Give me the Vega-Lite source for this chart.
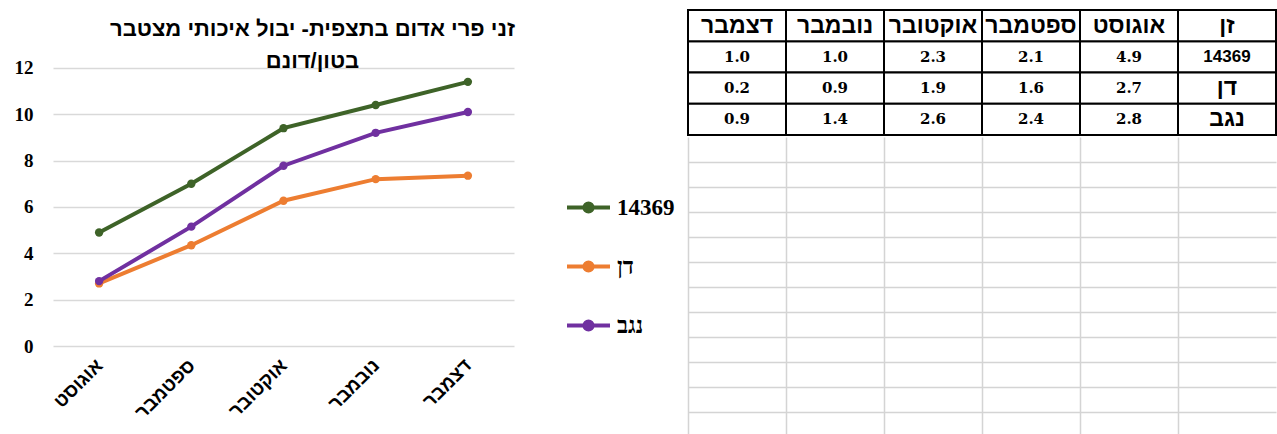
{
  "$schema": "https://vega.github.io/schema/vega-lite/v6.json",
  "background": "white",
  "padding": {"left": 14, "top": 8, "right": 0, "bottom": 0},
  "spacing": 174,
  "bounds": "flush",
  "datasets": {
    "cumulative": [
      {"variety": "14369", "month": "אוגוסט", "cum": 4.9},
      {"variety": "14369", "month": "ספטמבר", "cum": 7.0},
      {"variety": "14369", "month": "אוקטובר", "cum": 9.4},
      {"variety": "14369", "month": "נובמבר", "cum": 10.4},
      {"variety": "14369", "month": "דצמבר", "cum": 11.4},
      {"variety": "דן", "month": "אוגוסט", "cum": 2.7},
      {"variety": "דן", "month": "ספטמבר", "cum": 4.35},
      {"variety": "דן", "month": "אוקטובר", "cum": 6.27},
      {"variety": "דן", "month": "נובמבר", "cum": 7.2},
      {"variety": "דן", "month": "דצמבר", "cum": 7.35},
      {"variety": "נגב", "month": "אוגוסט", "cum": 2.8},
      {"variety": "נגב", "month": "ספטמבר", "cum": 5.15},
      {"variety": "נגב", "month": "אוקטובר", "cum": 7.78},
      {"variety": "נגב", "month": "נובמבר", "cum": 9.2},
      {"variety": "נגב", "month": "דצמבר", "cum": 10.1}
    ],
    "table": [
      {"variety": "14369", "month": "אוגוסט", "value": 4.9},
      {"variety": "14369", "month": "ספטמבר", "value": 2.1},
      {"variety": "14369", "month": "אוקטובר", "value": 2.3},
      {"variety": "14369", "month": "נובמבר", "value": 1.0},
      {"variety": "14369", "month": "דצמבר", "value": 1.0},
      {"variety": "דן", "month": "אוגוסט", "value": 2.7},
      {"variety": "דן", "month": "ספטמבר", "value": 1.6},
      {"variety": "דן", "month": "אוקטובר", "value": 1.9},
      {"variety": "דן", "month": "נובמבר", "value": 0.9},
      {"variety": "דן", "month": "דצמבר", "value": 0.2},
      {"variety": "נגב", "month": "אוגוסט", "value": 2.8},
      {"variety": "נגב", "month": "ספטמבר", "value": 2.4},
      {"variety": "נגב", "month": "אוקטובר", "value": 2.6},
      {"variety": "נגב", "month": "נובמבר", "value": 1.4},
      {"variety": "נגב", "month": "דצמבר", "value": 0.9}
    ],
    "corner": [{"label": "זן"}]
  },
  "hconcat": [
    {
      "width": 461,
      "height": 336,
      "view": {"stroke": null},
      "title": {
        "text": ["זני פרי אדום בתצפית- יבול איכותי מצטבר", "בטון/דונם"],
        "font": "Liberation Sans",
        "fontSize": 22,
        "fontWeight": "bold",
        "lineHeight": 32,
        "anchor": "middle",
        "dx": 29,
        "baseline": "alphabetic",
        "offset": -80,
        "color": "#000000"
      },
      "data": {"name": "cumulative"},
      "encoding": {
        "x": {
          "field": "month",
          "type": "ordinal",
          "sort": ["אוגוסט", "ספטמבר", "אוקטובר", "נובמבר", "דצמבר"],
          "scale": {"type": "point", "padding": 0.5},
          "axis": {
            "title": null,
            "domain": false,
            "ticks": false,
            "grid": false,
            "labelAngle": -45,
            "labelAlign": "right",
            "labelBaseline": "middle",
            "labelPadding": 16,
            "labelFont": "Liberation Sans",
            "labelFontSize": 19,
            "labelFontWeight": "bold",
            "labelColor": "#000000"
          }
        },
        "y": {
          "field": "cum",
          "type": "quantitative",
          "scale": {"domain": [0, 14.5], "nice": false},
          "axis": {
            "title": null,
            "values": [0, 2, 4, 6, 8, 10, 12],
            "domain": false,
            "ticks": false,
            "labelPadding": 20,
            "labelFont": "Liberation Serif",
            "labelFontSize": 19,
            "labelFontWeight": "bold",
            "labelColor": "#000000",
            "gridColor": "#D9D9D9",
            "gridWidth": 1.5
          }
        },
        "color": {
          "field": "variety",
          "type": "nominal",
          "scale": {"domain": ["14369", "דן", "נגב"], "range": ["#3E6328", "#ED7D31", "#7030A0"]},
          "legend": {
            "orient": "none",
            "legendX": 512,
            "legendY": 174,
            "title": null,
            "padding": 0,
            "symbolType": "M-1,0L1,0M-0.19,0A0.19,0.19,0,1,1,0.19,0A0.19,0.19,0,1,1,-0.19,0Z",
            "symbolSize": 1849,
            "symbolStrokeWidth": 4,
            "labelFont": "Liberation Serif, Liberation Sans",
            "labelFontSize": 23,
            "labelFontWeight": "bold",
            "labelColor": "#000000",
            "labelOffset": 5,
            "rowPadding": 23,
            "encode": {
              "symbols": {
                "update": {
                  "fill": {"scale": "color", "field": "value"},
                  "stroke": {"scale": "color", "field": "value"},
                  "opacity": {"value": 1}
                }
              }
            }
          }
        }
      },
      "layer": [
        {"mark": {"type": "line", "strokeWidth": 4}},
        {"mark": {"type": "point", "filled": true, "size": 70, "opacity": 1}}
      ]
    },
    {
      "spacing": 0,
      "vconcat": [
        {
          "width": 588,
          "height": 125,
          "view": {"stroke": "#000000", "strokeWidth": 2},
          "encoding": {
            "x": {
              "type": "nominal",
              "scale": {"domain": ["דצמבר", "נובמבר", "אוקטובר", "ספטמבר", "אוגוסט", "זן"], "paddingInner": 0, "paddingOuter": 0},
              "axis": null
            },
            "y": {
              "type": "nominal",
              "scale": {"domain": ["זן", "14369", "דן", "נגב"], "paddingInner": 0, "paddingOuter": 0},
              "axis": null
            }
          },
          "layer": [
            {
              "data": {"name": "table"},
              "encoding": {
                "x": {"field": "month"},
                "y": {"field": "variety"}
              },
              "layer": [
                {"mark": {"type": "rect", "fill": "#FFFFFF", "stroke": "#000000", "strokeWidth": 2}},
                {
                  "mark": {"type": "text", "font": "DejaVu Serif", "fontWeight": "bold", "fontSize": 15, "color": "#000000"},
                  "encoding": {"text": {"field": "value", "type": "quantitative", "format": ".1f"}}
                }
              ]
            },
            {
              "data": {"name": "table"},
              "transform": [{"aggregate": [{"op": "count", "as": "n"}], "groupby": ["month"]}],
              "encoding": {
                "x": {"field": "month"},
                "y": {"datum": "זן"}
              },
              "layer": [
                {"mark": {"type": "rect", "fill": "#FFFFFF", "stroke": "#000000", "strokeWidth": 2}},
                {
                  "mark": {"type": "text", "font": "Liberation Sans", "fontWeight": "bold", "fontSize": 23, "color": "#000000"},
                  "encoding": {"text": {"field": "month", "type": "nominal"}}
                }
              ]
            },
            {
              "data": {"name": "table"},
              "transform": [{"aggregate": [{"op": "count", "as": "n"}], "groupby": ["variety"]}],
              "encoding": {
                "x": {"datum": "זן"},
                "y": {"field": "variety"}
              },
              "layer": [
                {"mark": {"type": "rect", "fill": "#FFFFFF", "stroke": "#000000", "strokeWidth": 2}},
                {
                  "mark": {"type": "text", "font": "Liberation Sans", "fontWeight": "bold", "color": "#000000"},
                  "encoding": {
                    "text": {"field": "variety", "type": "nominal"},
                    "size": {"condition": {"test": "datum.variety === '14369'", "value": 17}, "value": 23}
                  }
                }
              ]
            },
            {
              "data": {"name": "corner"},
              "encoding": {
                "x": {"datum": "זן"},
                "y": {"datum": "זן"}
              },
              "layer": [
                {"mark": {"type": "rect", "fill": "#FFFFFF", "stroke": "#000000", "strokeWidth": 2}},
                {
                  "mark": {"type": "text", "font": "Liberation Sans", "fontWeight": "bold", "fontSize": 23, "color": "#000000"},
                  "encoding": {"text": {"field": "label", "type": "nominal"}}
                }
              ]
            }
          ]
        },
        {
          "width": 588,
          "height": 300,
          "view": {"stroke": null},
          "data": {"name": "table"},
          "mark": {"type": "rect", "opacity": 0},
          "encoding": {
            "x": {
              "field": "month",
              "type": "nominal",
              "scale": {"domain": ["דצמבר", "נובמבר", "אוקטובר", "ספטמבר", "אוגוסט", "זן"], "paddingInner": 0, "paddingOuter": 0},
              "axis": {"title": null, "labels": false, "ticks": false, "domain": false, "grid": true, "bandPosition": 0, "gridColor": "#D4D4D4", "gridWidth": 1.5, "gridOpacity": 1}
            },
            "y": {
              "datum": "1",
              "type": "nominal",
              "scale": {"domain": ["1", "2", "3", "4", "5", "6", "7", "8", "9", "10", "11", "12"], "paddingInner": 0, "paddingOuter": 0},
              "axis": {"title": null, "labels": false, "ticks": false, "domain": false, "grid": true, "bandPosition": 1, "gridColor": "#D4D4D4", "gridWidth": 1.5, "gridOpacity": 1}
            }
          }
        }
      ]
    }
  ]
}
